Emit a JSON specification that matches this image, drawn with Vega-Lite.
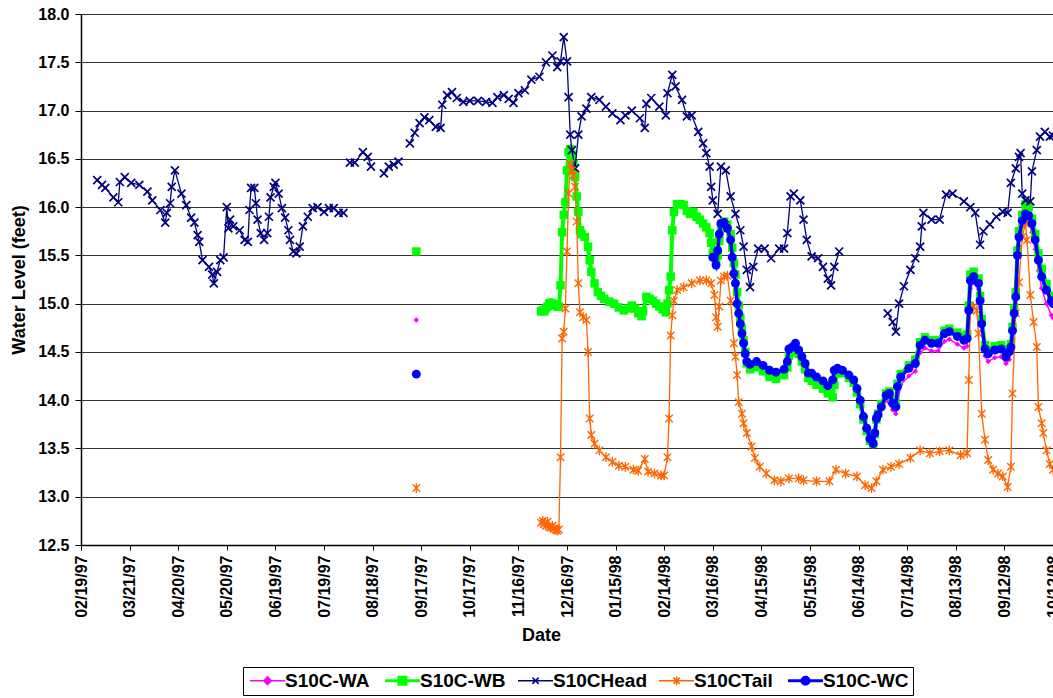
{
"$schema": "https://vega.github.io/schema/vega-lite/v6.json",
"width": 972, "height": 531,
"autosize": "none",
"padding": {"left": 81, "top": 14, "right": 0, "bottom": 153},
"background": "white",
"config": {"view": {"stroke": null}, "font": "Liberation Sans"},
"datasets": {
"wa": [
{"d":"1997-09-14","v":14.83},{"d":"1997-10-15","v":null},
{"d":"1997-11-30","v":14.94},{"d":"1997-12-03","v":14.97},{"d":"1997-12-06","v":15.03},{"d":"1997-12-09","v":15.0},{"d":"1997-12-11","v":14.98},{"d":"1997-12-12","v":15.2},{"d":"1997-12-13","v":15.75},{"d":"1997-12-14","v":15.93},{"d":"1997-12-15","v":16.07},{"d":"1997-12-16","v":16.4},{"d":"1997-12-17","v":16.59},{"d":"1997-12-18","v":16.62},{"d":"1997-12-19","v":16.55},{"d":"1997-12-21","v":16.33},{"d":"1997-12-22","v":16.13},{"d":"1997-12-23","v":15.97},{"d":"1997-12-24","v":15.78},{"d":"1997-12-27","v":15.71},{"d":"1997-12-29","v":15.61},{"d":"1997-12-31","v":15.35},
{"d":"1998-01-02","v":15.23},{"d":"1998-01-05","v":15.12},{"d":"1998-01-08","v":15.07},{"d":"1998-01-11","v":15.04},{"d":"1998-01-14","v":15.02},{"d":"1998-01-17","v":14.98},{"d":"1998-01-20","v":14.95},{"d":"1998-01-23","v":14.97},{"d":"1998-01-27","v":14.97},{"d":"1998-01-31","v":14.89},{"d":"1998-02-03","v":15.09},{"d":"1998-02-07","v":15.05},{"d":"1998-02-11","v":14.99},{"d":"1998-02-15","v":14.93},{"d":"1998-02-17","v":15.16},{"d":"1998-02-18","v":15.3},{"d":"1998-02-19","v":15.77},{"d":"1998-02-20","v":15.96},{"d":"1998-02-24","v":16.04},{"d":"1998-02-28","v":15.97},{"d":"1998-03-04","v":15.96},{"d":"1998-03-08","v":15.88},{"d":"1998-03-12","v":15.81},{"d":"1998-03-14","v":15.75},{"d":"1998-03-16","v":15.5},{"d":"1998-03-18","v":15.38},{"d":"1998-03-20","v":15.69},{"d":"1998-03-23","v":15.82},{"d":"1998-03-27","v":15.63},{"d":"1998-03-29","v":15.28},{"d":"1998-03-31","v":14.97},
{"d":"1998-04-02","v":14.76},{"d":"1998-04-04","v":14.56},{"d":"1998-04-06","v":14.37},{"d":"1998-04-12","v":14.37},{"d":"1998-04-20","v":14.28},{"d":"1998-04-29","v":14.29},{"d":"1998-05-02","v":14.5},{"d":"1998-05-06","v":14.56},{"d":"1998-05-10","v":14.42},{"d":"1998-05-14","v":14.25},{"d":"1998-05-19","v":14.21},{"d":"1998-05-26","v":14.12},{"d":"1998-05-30","v":14.28},{"d":"1998-06-04","v":14.28},{"d":"1998-06-11","v":14.18},{"d":"1998-06-15","v":13.97},{"d":"1998-06-19","v":13.68},{"d":"1998-06-23","v":13.52},{"d":"1998-06-26","v":13.8},{"d":"1998-07-01","v":14.0},{"d":"1998-07-05","v":13.9},{"d":"1998-07-07","v":13.86},{"d":"1998-07-10","v":14.16},{"d":"1998-07-15","v":14.25},{"d":"1998-07-19","v":14.3},{"d":"1998-07-22","v":14.49},{"d":"1998-07-25","v":14.54},{"d":"1998-07-29","v":14.51},{"d":"1998-08-02","v":14.51},{"d":"1998-08-06","v":14.61},{"d":"1998-08-09","v":14.63},{"d":"1998-08-14","v":14.58},{"d":"1998-08-18","v":14.54},{"d":"1998-08-20","v":14.56},{"d":"1998-08-21","v":14.85},{"d":"1998-08-22","v":15.16},{"d":"1998-08-24","v":15.22},{"d":"1998-08-27","v":15.15},{"d":"1998-08-28","v":14.97},{"d":"1998-08-29","v":14.72},{"d":"1998-08-31","v":14.46},{"d":"1998-09-02","v":14.4},{"d":"1998-09-06","v":14.44},{"d":"1998-09-10","v":14.45},{"d":"1998-09-13","v":14.38},{"d":"1998-09-15","v":14.42},{"d":"1998-09-17","v":14.64},{"d":"1998-09-19","v":14.99},{"d":"1998-09-21","v":15.6},{"d":"1998-09-23","v":15.8},{"d":"1998-09-25","v":15.87},{"d":"1998-09-27","v":15.84},{"d":"1998-09-29","v":15.74},{"d":"1998-10-01","v":15.56},{"d":"1998-10-03","v":15.34},{"d":"1998-10-05","v":15.16},{"d":"1998-10-08","v":15.0},{"d":"1998-10-11","v":14.88},{"d":"1998-10-12","v":14.85}
],
"wb": [
{"d":"1997-09-14","v":15.54},{"d":"1997-10-15","v":null},
{"d":"1997-11-30","v":14.92},{"d":"1997-12-01","v":14.93},{"d":"1997-12-02","v":14.92},{"d":"1997-12-03","v":14.95},{"d":"1997-12-04","v":14.97},{"d":"1997-12-05","v":15.0},{"d":"1997-12-06","v":15.01},{"d":"1997-12-07","v":15.0},{"d":"1997-12-08","v":14.99},{"d":"1997-12-09","v":14.98},{"d":"1997-12-10","v":14.97},{"d":"1997-12-11","v":14.97},{"d":"1997-12-12","v":15.19},{"d":"1997-12-13","v":15.74},{"d":"1997-12-14","v":15.92},{"d":"1997-12-15","v":16.05},{"d":"1997-12-16","v":16.38},{"d":"1997-12-17","v":16.57},{"d":"1997-12-18","v":16.6},{"d":"1997-12-19","v":16.54},{"d":"1997-12-20","v":16.45},{"d":"1997-12-21","v":16.31},{"d":"1997-12-22","v":16.11},{"d":"1997-12-23","v":15.95},{"d":"1997-12-24","v":15.76},{"d":"1997-12-25","v":15.72},{"d":"1997-12-27","v":15.69},{"d":"1997-12-29","v":15.59},{"d":"1997-12-30","v":15.45},{"d":"1997-12-31","v":15.33},
{"d":"1998-01-02","v":15.21},{"d":"1998-01-04","v":15.12},{"d":"1998-01-06","v":15.08},{"d":"1998-01-08","v":15.05},{"d":"1998-01-11","v":15.02},{"d":"1998-01-14","v":15.0},{"d":"1998-01-17","v":14.96},{"d":"1998-01-20","v":14.93},{"d":"1998-01-23","v":14.95},{"d":"1998-01-25","v":14.98},{"d":"1998-01-27","v":14.95},{"d":"1998-01-29","v":14.9},{"d":"1998-01-31","v":14.87},{"d":"1998-02-01","v":14.92},{"d":"1998-02-03","v":15.07},{"d":"1998-02-05","v":15.05},{"d":"1998-02-07","v":15.03},{"d":"1998-02-09","v":15.0},{"d":"1998-02-11","v":14.97},{"d":"1998-02-13","v":14.94},{"d":"1998-02-15","v":14.91},{"d":"1998-02-16","v":15.0},{"d":"1998-02-17","v":15.14},{"d":"1998-02-18","v":15.28},{"d":"1998-02-19","v":15.76},{"d":"1998-02-20","v":15.95},{"d":"1998-02-22","v":16.03},{"d":"1998-02-24","v":16.03},{"d":"1998-02-26","v":16.02},{"d":"1998-02-28","v":15.96},{"d":"1998-03-02","v":15.93},{"d":"1998-03-04","v":15.95},{"d":"1998-03-06","v":15.9},{"d":"1998-03-08","v":15.87},{"d":"1998-03-10","v":15.83},{"d":"1998-03-12","v":15.79},{"d":"1998-03-14","v":15.73},{"d":"1998-03-15","v":15.63},{"d":"1998-03-16","v":15.52},
{"d":"1998-03-18","v":15.45},{"d":"1998-03-19","v":15.5},{"d":"1998-03-20","v":15.65},{"d":"1998-03-21","v":15.78},{"d":"1998-03-23","v":15.85},{"d":"1998-03-25","v":15.82},{"d":"1998-03-27","v":15.72},{"d":"1998-03-28","v":15.58},{"d":"1998-03-29","v":15.42},{"d":"1998-03-30","v":15.3},{"d":"1998-03-31","v":15.12},{"d":"1998-04-01","v":14.98},{"d":"1998-04-02","v":14.85},{"d":"1998-04-03","v":14.74},{"d":"1998-04-04","v":14.62},{"d":"1998-04-05","v":14.5},{"d":"1998-04-06","v":14.38},{"d":"1998-04-08","v":14.32},{"d":"1998-04-12","v":14.34},{"d":"1998-04-16","v":14.3},{"d":"1998-04-20","v":14.24},{"d":"1998-04-24","v":14.22},{"d":"1998-04-29","v":14.26},{"d":"1998-05-01","v":14.34},{"d":"1998-05-02","v":14.46},{"d":"1998-05-04","v":14.5},{"d":"1998-05-06","v":14.54},{"d":"1998-05-08","v":14.48},{"d":"1998-05-10","v":14.4},{"d":"1998-05-12","v":14.32},{"d":"1998-05-14","v":14.23},{"d":"1998-05-16","v":14.2},{"d":"1998-05-19","v":14.16},{"d":"1998-05-23","v":14.12},{"d":"1998-05-26","v":14.07},{"d":"1998-05-29","v":14.03},{"d":"1998-05-30","v":14.16},{"d":"1998-06-01","v":14.28},{"d":"1998-06-04","v":14.28},{"d":"1998-06-08","v":14.23},{"d":"1998-06-11","v":14.18},{"d":"1998-06-13","v":14.08},{"d":"1998-06-15","v":13.96},{"d":"1998-06-17","v":13.8},{"d":"1998-06-19","v":13.68},{"d":"1998-06-21","v":13.58},{"d":"1998-06-23","v":13.55},{"d":"1998-06-24","v":13.65},{"d":"1998-06-25","v":13.8},{"d":"1998-06-26","v":13.86},{"d":"1998-06-28","v":13.96},{"d":"1998-07-01","v":14.07},{"d":"1998-07-03","v":14.09},{"d":"1998-07-05","v":14.01},{"d":"1998-07-07","v":13.97},{"d":"1998-07-08","v":14.17},{"d":"1998-07-10","v":14.27},{"d":"1998-07-15","v":14.36},{"d":"1998-07-19","v":14.42},{"d":"1998-07-22","v":14.6},{"d":"1998-07-25","v":14.65},{"d":"1998-07-29","v":14.62},{"d":"1998-08-02","v":14.62},{"d":"1998-08-06","v":14.72},{"d":"1998-08-09","v":14.74},{"d":"1998-08-14","v":14.7},{"d":"1998-08-18","v":14.66},{"d":"1998-08-20","v":14.68},{"d":"1998-08-21","v":14.98},{"d":"1998-08-22","v":15.3},{"d":"1998-08-24","v":15.33},{"d":"1998-08-27","v":15.26},{"d":"1998-08-28","v":15.08},{"d":"1998-08-29","v":14.84},{"d":"1998-08-31","v":14.57},{"d":"1998-09-02","v":14.52},{"d":"1998-09-06","v":14.56},{"d":"1998-09-10","v":14.57},{"d":"1998-09-13","v":14.5},{"d":"1998-09-15","v":14.53},{"d":"1998-09-16","v":14.58},{"d":"1998-09-17","v":14.76},{"d":"1998-09-18","v":14.95},{"d":"1998-09-19","v":15.12},{"d":"1998-09-20","v":15.55},{"d":"1998-09-21","v":15.75},{"d":"1998-09-23","v":15.92},{"d":"1998-09-25","v":16.03},{"d":"1998-09-27","v":16.0},{"d":"1998-09-29","v":15.88},{"d":"1998-10-01","v":15.72},{"d":"1998-10-03","v":15.52},{"d":"1998-10-05","v":15.36},{"d":"1998-10-08","v":15.2},{"d":"1998-10-11","v":15.08},{"d":"1998-10-12","v":15.05}
],
"head": [
{"d":"1997-03-01","v":16.28},{"d":"1997-03-04","v":16.23},{"d":"1997-03-06","v":16.2},{"d":"1997-03-11","v":16.1},{"d":"1997-03-14","v":16.05},{"d":"1997-03-15","v":16.26},{"d":"1997-03-18","v":16.31},{"d":"1997-03-22","v":16.25},{"d":"1997-03-27","v":16.23},{"d":"1997-04-01","v":16.16},{"d":"1997-04-04","v":16.07},{"d":"1997-04-09","v":15.97},{"d":"1997-04-12","v":15.84},{"d":"1997-04-13","v":15.94},{"d":"1997-04-15","v":16.04},{"d":"1997-04-16","v":16.21},{"d":"1997-04-18","v":16.38},{"d":"1997-04-22","v":16.14},{"d":"1997-04-25","v":16.02},{"d":"1997-04-28","v":15.89},{"d":"1997-04-30","v":15.84},{"d":"1997-05-02","v":15.71},{"d":"1997-05-03","v":15.64},{"d":"1997-05-05","v":15.45},{"d":"1997-05-09","v":15.38},{"d":"1997-05-11","v":15.3},{"d":"1997-05-12","v":15.21},{"d":"1997-05-14","v":15.33},{"d":"1997-05-16","v":15.45},{"d":"1997-05-18","v":15.48},{"d":"1997-05-20","v":16.0},{"d":"1997-05-21","v":15.78},{"d":"1997-05-22","v":15.87},{"d":"1997-05-24","v":15.8},{"d":"1997-05-28","v":15.76},{"d":"1997-05-31","v":15.66},{"d":"1997-06-02","v":15.64},{"d":"1997-06-03","v":15.97},{"d":"1997-06-04","v":16.2},{"d":"1997-06-06","v":16.2},{"d":"1997-06-07","v":16.04},{"d":"1997-06-08","v":15.87},{"d":"1997-06-10","v":15.73},{"d":"1997-06-12","v":15.66},{"d":"1997-06-14","v":15.73},{"d":"1997-06-15","v":15.9},{"d":"1997-06-16","v":16.1},{"d":"1997-06-18","v":16.21},{"d":"1997-06-19","v":16.25},{"d":"1997-06-21","v":16.14},{"d":"1997-06-23","v":15.99},{"d":"1997-06-25","v":15.89},{"d":"1997-06-27","v":15.76},{"d":"1997-06-28","v":15.66},{"d":"1997-06-30","v":15.54},{"d":"1997-07-02","v":15.52},{"d":"1997-07-04","v":15.59},{"d":"1997-07-06","v":15.8},{"d":"1997-07-09","v":15.9},{"d":"1997-07-12","v":15.99},{"d":"1997-07-15","v":16.0},{"d":"1997-07-19","v":15.95},{"d":"1997-07-22","v":15.99},{"d":"1997-07-25","v":15.99},{"d":"1997-07-28","v":15.94},{"d":"1997-07-31","v":15.94},
{"d":"1997-08-02","v":null},
{"d":"1997-08-04","v":16.46},{"d":"1997-08-07","v":16.46},{"d":"1997-08-12","v":16.57},{"d":"1997-08-15","v":16.52},{"d":"1997-08-17","v":16.42},
{"d":"1997-08-21","v":null},
{"d":"1997-08-25","v":16.35},{"d":"1997-08-28","v":16.42},{"d":"1997-08-31","v":16.44},{"d":"1997-09-03","v":16.47},
{"d":"1997-09-06","v":null},
{"d":"1997-09-10","v":16.66},{"d":"1997-09-13","v":16.77},{"d":"1997-09-16","v":16.87},{"d":"1997-09-19","v":16.93},{"d":"1997-09-22","v":16.9},{"d":"1997-09-26","v":16.83},{"d":"1997-09-29","v":16.82},{"d":"1997-09-30","v":17.06},{"d":"1997-10-03","v":17.16},{"d":"1997-10-06","v":17.19},{"d":"1997-10-09","v":17.13},{"d":"1997-10-13","v":17.09},{"d":"1997-10-17","v":17.1},{"d":"1997-10-22","v":17.1},{"d":"1997-10-27","v":17.09},{"d":"1997-10-31","v":17.08},{"d":"1997-11-03","v":17.14},{"d":"1997-11-07","v":17.16},{"d":"1997-11-10","v":17.12},{"d":"1997-11-13","v":17.08},{"d":"1997-11-16","v":17.18},{"d":"1997-11-20","v":17.21},{"d":"1997-11-24","v":17.32},{"d":"1997-11-29","v":17.35},{"d":"1997-12-03","v":17.5},{"d":"1997-12-07","v":17.57},{"d":"1997-12-10","v":17.45},{"d":"1997-12-12","v":17.51},{"d":"1997-12-14","v":17.76},{"d":"1997-12-16","v":17.51},{"d":"1997-12-17","v":17.14},{"d":"1997-12-18","v":16.75},{"d":"1997-12-19","v":16.59},{"d":"1997-12-21","v":16.4},{"d":"1997-12-23","v":16.75},{"d":"1997-12-25","v":16.94},{"d":"1997-12-28","v":17.02},{"d":"1997-12-31","v":17.14},
{"d":"1998-01-05","v":17.11},{"d":"1998-01-09","v":17.04},{"d":"1998-01-13","v":16.97},{"d":"1998-01-18","v":16.9},{"d":"1998-01-21","v":16.95},{"d":"1998-01-25","v":17.0},{"d":"1998-01-30","v":16.92},{"d":"1998-02-02","v":16.82},{"d":"1998-02-03","v":17.07},{"d":"1998-02-06","v":17.13},{"d":"1998-02-11","v":17.04},{"d":"1998-02-15","v":16.95},{"d":"1998-02-16","v":17.18},{"d":"1998-02-19","v":17.37},{"d":"1998-02-21","v":17.25},{"d":"1998-02-25","v":17.11},{"d":"1998-02-28","v":16.94},{"d":"1998-03-03","v":16.95},{"d":"1998-03-07","v":16.78},{"d":"1998-03-10","v":16.66},{"d":"1998-03-12","v":16.56},{"d":"1998-03-14","v":16.42},{"d":"1998-03-15","v":16.21},{"d":"1998-03-16","v":16.07},{"d":"1998-03-19","v":15.93},{"d":"1998-03-21","v":16.42},{"d":"1998-03-24","v":16.38},{"d":"1998-03-27","v":16.11},{"d":"1998-03-30","v":15.93},{"d":"1998-04-02","v":15.76},{"d":"1998-04-04","v":15.59},{"d":"1998-04-06","v":15.35},{"d":"1998-04-08","v":15.17},{"d":"1998-04-10","v":15.38},{"d":"1998-04-13","v":15.57},{"d":"1998-04-17","v":15.57},{"d":"1998-04-21","v":15.47},{"d":"1998-04-26","v":15.57},{"d":"1998-04-29","v":15.57},{"d":"1998-05-01","v":15.73},{"d":"1998-05-03","v":16.11},{"d":"1998-05-05","v":16.14},{"d":"1998-05-09","v":16.07},{"d":"1998-05-11","v":15.87},{"d":"1998-05-13","v":15.66},{"d":"1998-05-16","v":15.49},{"d":"1998-05-20","v":15.47},{"d":"1998-05-23","v":15.38},{"d":"1998-05-26","v":15.26},{"d":"1998-05-28","v":15.19},{"d":"1998-05-30","v":15.38},{"d":"1998-06-02","v":15.54},
{"d":"1998-06-15","v":null},
{"d":"1998-07-02","v":14.9},{"d":"1998-07-05","v":14.81},{"d":"1998-07-07","v":14.71},{"d":"1998-07-09","v":15.0},{"d":"1998-07-12","v":15.18},{"d":"1998-07-16","v":15.35},{"d":"1998-07-19","v":15.47},{"d":"1998-07-22","v":15.59},{"d":"1998-07-23","v":15.8},{"d":"1998-07-24","v":15.94},{"d":"1998-07-29","v":15.87},{"d":"1998-08-03","v":15.87},{"d":"1998-08-07","v":16.13},{"d":"1998-08-11","v":16.14},{"d":"1998-08-18","v":16.06},{"d":"1998-08-22","v":16.0},{"d":"1998-08-25","v":15.94},{"d":"1998-08-28","v":15.61},{"d":"1998-08-30","v":15.75},{"d":"1998-09-03","v":15.82},{"d":"1998-09-07","v":15.9},{"d":"1998-09-11","v":15.95},{"d":"1998-09-14","v":15.94},{"d":"1998-09-16","v":16.25},{"d":"1998-09-19","v":16.4},{"d":"1998-09-21","v":16.52},{"d":"1998-09-22","v":16.56},{"d":"1998-09-23","v":16.14},{"d":"1998-09-25","v":16.07},{"d":"1998-09-28","v":16.06},{"d":"1998-09-29","v":16.37},{"d":"1998-10-02","v":16.59},{"d":"1998-10-04","v":16.73},{"d":"1998-10-07","v":16.78},{"d":"1998-10-10","v":16.73},{"d":"1998-10-12","v":16.74}
],
"tail": [
{"d":"1997-09-14","v":13.09},{"d":"1997-10-15","v":null},
{"d":"1997-11-30","v":12.73},{"d":"1997-12-01","v":12.75},{"d":"1997-12-02","v":12.72},{"d":"1997-12-03","v":12.7},{"d":"1997-12-04","v":12.74},{"d":"1997-12-05","v":12.69},{"d":"1997-12-06","v":12.68},{"d":"1997-12-07","v":12.7},{"d":"1997-12-08","v":12.67},{"d":"1997-12-09","v":12.66},{"d":"1997-12-10","v":12.65},{"d":"1997-12-11","v":12.66},{"d":"1997-12-12","v":13.41},{"d":"1997-12-13","v":14.64},{"d":"1997-12-14","v":14.71},{"d":"1997-12-15","v":14.95},{"d":"1997-12-16","v":15.54},{"d":"1997-12-17","v":16.14},{"d":"1997-12-18","v":16.45},{"d":"1997-12-19","v":16.38},{"d":"1997-12-20","v":16.33},{"d":"1997-12-21","v":16.21},{"d":"1997-12-22","v":15.85},{"d":"1997-12-23","v":15.21},{"d":"1997-12-24","v":14.91},{"d":"1997-12-26","v":14.86},{"d":"1997-12-28","v":14.83},{"d":"1997-12-29","v":14.5},{"d":"1997-12-30","v":13.81},{"d":"1997-12-31","v":13.64},
{"d":"1998-01-02","v":13.55},{"d":"1998-01-05","v":13.48},{"d":"1998-01-09","v":13.41},{"d":"1998-01-13","v":13.36},{"d":"1998-01-17","v":13.32},{"d":"1998-01-21","v":13.31},{"d":"1998-01-26","v":13.28},{"d":"1998-01-29","v":13.27},{"d":"1998-02-02","v":13.39},{"d":"1998-02-04","v":13.26},{"d":"1998-02-08","v":13.24},{"d":"1998-02-12","v":13.22},{"d":"1998-02-14","v":13.22},{"d":"1998-02-16","v":13.41},{"d":"1998-02-17","v":13.81},{"d":"1998-02-18","v":14.67},{"d":"1998-02-19","v":14.88},{"d":"1998-02-20","v":15.03},{"d":"1998-02-22","v":15.14},{"d":"1998-02-26","v":15.17},{"d":"1998-03-03","v":15.21},{"d":"1998-03-08","v":15.24},{"d":"1998-03-12","v":15.24},{"d":"1998-03-15","v":15.21},{"d":"1998-03-17","v":15.09},{"d":"1998-03-18","v":14.86},{"d":"1998-03-19","v":14.76},{"d":"1998-03-20","v":14.97},{"d":"1998-03-21","v":15.24},{"d":"1998-03-23","v":15.28},{"d":"1998-03-25","v":15.29},{"d":"1998-03-27","v":15.03},{"d":"1998-03-29","v":14.59},{"d":"1998-03-30","v":14.45},{"d":"1998-03-31","v":14.26},{"d":"1998-04-01","v":13.98},{"d":"1998-04-03","v":13.86},{"d":"1998-04-04","v":13.76},{"d":"1998-04-06","v":13.66},{"d":"1998-04-09","v":13.52},{"d":"1998-04-11","v":13.4},{"d":"1998-04-14","v":13.31},{"d":"1998-04-18","v":13.24},{"d":"1998-04-23","v":13.17},{"d":"1998-04-27","v":13.16},{"d":"1998-05-02","v":13.19},{"d":"1998-05-08","v":13.19},{"d":"1998-05-11","v":13.17},{"d":"1998-05-19","v":13.16},{"d":"1998-05-27","v":13.16},{"d":"1998-05-31","v":13.28},{"d":"1998-06-06","v":13.24},{"d":"1998-06-13","v":13.21},{"d":"1998-06-18","v":13.12},{"d":"1998-06-22","v":13.09},{"d":"1998-06-25","v":13.16},{"d":"1998-06-29","v":13.28},{"d":"1998-07-04","v":13.31},{"d":"1998-07-09","v":13.34},{"d":"1998-07-16","v":13.4},{"d":"1998-07-22","v":13.48},{"d":"1998-07-28","v":13.45},{"d":"1998-08-03","v":13.47},{"d":"1998-08-09","v":13.48},{"d":"1998-08-16","v":13.43},{"d":"1998-08-20","v":13.45},{"d":"1998-08-21","v":14.21},{"d":"1998-08-22","v":14.93},{"d":"1998-08-24","v":14.97},{"d":"1998-08-26","v":14.93},{"d":"1998-08-27","v":14.69},{"d":"1998-08-29","v":13.86},{"d":"1998-08-31","v":13.59},{"d":"1998-09-02","v":13.38},{"d":"1998-09-05","v":13.28},{"d":"1998-09-08","v":13.24},{"d":"1998-09-11","v":13.21},{"d":"1998-09-14","v":13.1},{"d":"1998-09-16","v":13.31},{"d":"1998-09-17","v":14.07},{"d":"1998-09-19","v":14.9},{"d":"1998-09-21","v":15.22},{"d":"1998-09-23","v":15.69},{"d":"1998-09-25","v":15.83},{"d":"1998-09-26","v":15.66},{"d":"1998-09-28","v":15.09},{"d":"1998-09-30","v":14.81},{"d":"1998-10-02","v":14.55},{"d":"1998-10-03","v":13.93},{"d":"1998-10-05","v":13.76},{"d":"1998-10-06","v":13.66},{"d":"1998-10-08","v":13.48},{"d":"1998-10-10","v":13.34},{"d":"1998-10-12","v":13.28}
],
"wc": [
{"d":"1997-09-14","v":14.27},{"d":"1998-01-01","v":null},
{"d":"1998-03-16","v":15.48},{"d":"1998-03-18","v":15.4},{"d":"1998-03-19","v":15.55},{"d":"1998-03-20","v":15.72},{"d":"1998-03-21","v":15.83},{"d":"1998-03-23","v":15.84},{"d":"1998-03-25","v":15.78},{"d":"1998-03-27","v":15.66},{"d":"1998-03-28","v":15.48},{"d":"1998-03-29","v":15.31},{"d":"1998-03-30","v":15.21},{"d":"1998-03-31","v":15.0},{"d":"1998-04-01","v":14.9},{"d":"1998-04-02","v":14.79},{"d":"1998-04-03","v":14.69},{"d":"1998-04-04","v":14.59},{"d":"1998-04-05","v":14.48},{"d":"1998-04-06","v":14.4},{"d":"1998-04-08","v":14.37},{"d":"1998-04-12","v":14.4},{"d":"1998-04-16","v":14.36},{"d":"1998-04-20","v":14.31},{"d":"1998-04-24","v":14.29},{"d":"1998-04-29","v":14.32},{"d":"1998-05-01","v":14.4},{"d":"1998-05-02","v":14.53},{"d":"1998-05-04","v":14.55},{"d":"1998-05-06","v":14.59},{"d":"1998-05-08","v":14.52},{"d":"1998-05-10","v":14.45},{"d":"1998-05-12","v":14.38},{"d":"1998-05-14","v":14.28},{"d":"1998-05-16","v":14.28},{"d":"1998-05-19","v":14.24},{"d":"1998-05-23","v":14.2},{"d":"1998-05-26","v":14.15},{"d":"1998-05-29","v":14.21},{"d":"1998-05-30","v":14.31},{"d":"1998-06-01","v":14.33},{"d":"1998-06-04","v":14.31},{"d":"1998-06-08","v":14.26},{"d":"1998-06-11","v":14.21},{"d":"1998-06-13","v":14.12},{"d":"1998-06-15","v":14.0},{"d":"1998-06-17","v":13.83},{"d":"1998-06-19","v":13.71},{"d":"1998-06-21","v":13.6},{"d":"1998-06-23","v":13.55},{"d":"1998-06-24","v":13.66},{"d":"1998-06-25","v":13.81},{"d":"1998-06-26","v":13.85},{"d":"1998-06-28","v":13.93},{"d":"1998-07-01","v":14.05},{"d":"1998-07-03","v":14.07},{"d":"1998-07-05","v":13.97},{"d":"1998-07-07","v":13.93},{"d":"1998-07-08","v":14.14},{"d":"1998-07-10","v":14.24},{"d":"1998-07-15","v":14.33},{"d":"1998-07-19","v":14.38},{"d":"1998-07-22","v":14.57},{"d":"1998-07-25","v":14.62},{"d":"1998-07-29","v":14.59},{"d":"1998-08-02","v":14.59},{"d":"1998-08-06","v":14.69},{"d":"1998-08-09","v":14.71},{"d":"1998-08-14","v":14.66},{"d":"1998-08-18","v":14.62},{"d":"1998-08-20","v":14.64},{"d":"1998-08-21","v":14.93},{"d":"1998-08-22","v":15.24},{"d":"1998-08-24","v":15.28},{"d":"1998-08-27","v":15.21},{"d":"1998-08-28","v":15.03},{"d":"1998-08-29","v":14.79},{"d":"1998-08-31","v":14.53},{"d":"1998-09-02","v":14.48},{"d":"1998-09-06","v":14.52},{"d":"1998-09-10","v":14.53},{"d":"1998-09-13","v":14.45},{"d":"1998-09-15","v":14.5},{"d":"1998-09-16","v":14.55},{"d":"1998-09-17","v":14.72},{"d":"1998-09-18","v":14.9},{"d":"1998-09-19","v":15.07},{"d":"1998-09-20","v":15.5},{"d":"1998-09-21","v":15.69},{"d":"1998-09-23","v":15.86},{"d":"1998-09-25","v":15.93},{"d":"1998-09-27","v":15.91},{"d":"1998-09-29","v":15.83},{"d":"1998-10-01","v":15.66},{"d":"1998-10-03","v":15.45},{"d":"1998-10-05","v":15.28},{"d":"1998-10-08","v":15.14},{"d":"1998-10-11","v":15.03},{"d":"1998-10-12","v":15.0}
]
},
"encoding": {
"x": {"field": "d", "type": "temporal",
 "scale": {"type": "utc", "domain": [{"year":1997,"month":2,"date":19,"utc":true},{"year":1998,"month":10,"date":12,"utc":true}]},
 "axis": {"title": "Date", "format": "%m/%d/%y", "labelAngle": 270, "labelAlign": "right", "labelBaseline": "middle",
  "values": [{"year":1997,"month":2,"date":19,"utc":true},{"year":1997,"month":3,"date":21,"utc":true},{"year":1997,"month":4,"date":20,"utc":true},{"year":1997,"month":5,"date":20,"utc":true},{"year":1997,"month":6,"date":19,"utc":true},{"year":1997,"month":7,"date":19,"utc":true},{"year":1997,"month":8,"date":18,"utc":true},{"year":1997,"month":9,"date":17,"utc":true},{"year":1997,"month":10,"date":17,"utc":true},{"year":1997,"month":11,"date":16,"utc":true},{"year":1997,"month":12,"date":16,"utc":true},{"year":1998,"month":1,"date":15,"utc":true},{"year":1998,"month":2,"date":14,"utc":true},{"year":1998,"month":3,"date":16,"utc":true},{"year":1998,"month":4,"date":15,"utc":true},{"year":1998,"month":5,"date":15,"utc":true},{"year":1998,"month":6,"date":14,"utc":true},{"year":1998,"month":7,"date":14,"utc":true},{"year":1998,"month":8,"date":13,"utc":true},{"year":1998,"month":9,"date":12,"utc":true},{"year":1998,"month":10,"date":12,"utc":true}],
  "grid": false, "labelFont": "Liberation Sans", "labelFontWeight": "bold", "labelFontSize": 16, "labelColor": "#000",
  "labelPadding": 5, "labelOverlap": false, "labelFlush": false, "labelBound": false,
  "tickColor": "#000", "tickSize": 5, "domainColor": "#000", "domainWidth": 1.5,
  "titleFont": "Liberation Sans", "titleFontWeight": "bold", "titleFontSize": 18, "titleColor": "#000",
  "titleX": 460, "titleY": 90, "titleAlign": "center", "titleBaseline": "middle"}},
"y": {"field": "v", "type": "quantitative",
 "scale": {"domain": [12.5, 18], "nice": false, "zero": false},
 "axis": {"title": "Water Level (feet)", "values": [12.5,13,13.5,14,14.5,15,15.5,16,16.5,17,17.5,18], "format": ".1f",
  "grid": true, "gridColor": "#000", "gridWidth": 1, "gridOpacity": 0.8,
  "labelFont": "Liberation Sans", "labelFontWeight": "bold", "labelFontSize": 16, "labelColor": "#000", "labelPadding": 6,
  "tickColor": "#000", "tickSize": 6, "domainColor": "#000", "domainWidth": 1.5,
  "titleFont": "Liberation Sans", "titleFontWeight": "bold", "titleFontSize": 18, "titleColor": "#000",
  "titleX": -62, "titleY": 265.5, "titleAngle": 270, "titleAlign": "center", "titleBaseline": "middle"}}
},
"layer": [
{"data": {"name": "wa"}, "mark": {"type": "line", "strokeWidth": 1.5, "invalid": "break-paths-filter-domains"},
 "encoding": {"color": {"datum": "S10C-WA", "type": "nominal",
  "scale": {"domain": ["S10C-WA","S10C-WB","S10CHead","S10CTail","S10C-WC"], "range": ["#FF00FF","#00FF00","#000080","#FF6600","#0000FF"]},
  "legend": {"orient": "none", "legendX": 162, "legendY": 653, "direction": "horizontal", "title": null,
   "strokeColor": "#000", "padding": 4, "columnPadding": 9, "rowPadding": 0,
   "labelFont": "Liberation Sans", "labelFontWeight": "bold", "labelFontSize": 19, "labelColor": "#000", "labelOffset": 19, "labelLimit": 300,
   "symbolSize": 1225, "symbolStrokeWidth": 1.5,
   "encode": {"symbols": {"update": {
    "size": {"value": 1225},
    "shape": {"signal": "datum.value === 'S10C-WA' ? 'M-0.37,0H1.63M0.63,-0.22L0.85,0L0.63,0.22L0.41,0Z' : datum.value === 'S10C-WB' ? 'M-0.37,0H1.63M0.43,-0.2H0.83V0.2H0.43Z' : datum.value === 'S10CHead' ? 'M-0.37,0H1.63M0.45,-0.18L0.81,0.18M0.45,0.18L0.81,-0.18' : datum.value === 'S10CTail' ? 'M-0.37,0H1.63M0.45,-0.18L0.81,0.18M0.45,0.18L0.81,-0.18M0.63,-0.25V0.25' : 'M-0.37,0H1.63M0.83,0A0.2,0.2,0,1,1,0.43,0A0.2,0.2,0,1,1,0.83,0Z'"},
    "fill": {"signal": "datum.value === 'S10CHead' || datum.value === 'S10CTail' ? 'transparent' : scale('color', datum.value)"},
    "stroke": {"signal": "scale('color', datum.value)"},
    "strokeWidth": {"signal": "datum.value === 'S10C-WB' || datum.value === 'S10C-WC' ? 3 : 1.5"},
    "opacity": {"value": 1}, "fillOpacity": {"value": 1}, "strokeOpacity": {"value": 1}
   }}}}}}},
{"data": {"name": "wa"}, "mark": {"type": "point", "shape": "diamond", "filled": true, "size": 30, "opacity": 1},
 "encoding": {"color": {"datum": "S10C-WA", "type": "nominal"}}},
{"data": {"name": "wb"}, "mark": {"type": "line", "strokeWidth": 4, "invalid": "break-paths-filter-domains"},
 "encoding": {"color": {"datum": "S10C-WB", "type": "nominal"}}},
{"data": {"name": "wb"}, "mark": {"type": "point", "shape": "square", "filled": true, "size": 72, "opacity": 1},
 "encoding": {"color": {"datum": "S10C-WB", "type": "nominal"}}},
{"data": {"name": "head"}, "mark": {"type": "line", "strokeWidth": 1.3, "invalid": "break-paths-filter-domains"},
 "encoding": {"color": {"datum": "S10CHead", "type": "nominal"}}},
{"data": {"name": "head"}, "mark": {"type": "point", "shape": "M-1,-1L1,1M-1,1L1,-1", "filled": false, "size": 64, "strokeWidth": 1.7, "opacity": 1},
 "encoding": {"color": {"datum": "S10CHead", "type": "nominal"}}},
{"data": {"name": "tail"}, "mark": {"type": "line", "strokeWidth": 1.3, "invalid": "break-paths-filter-domains"},
 "encoding": {"color": {"datum": "S10CTail", "type": "nominal"}}},
{"data": {"name": "tail"}, "mark": {"type": "point", "shape": "M-1,-1L1,1M-1,1L1,-1M0,-1.3V1.3", "filled": false, "size": 56, "strokeWidth": 1.4, "opacity": 1},
 "encoding": {"color": {"datum": "S10CTail", "type": "nominal"}}},
{"data": {"name": "wc"}, "mark": {"type": "line", "strokeWidth": 3.5, "invalid": "break-paths-filter-domains"},
 "encoding": {"color": {"datum": "S10C-WC", "type": "nominal"}}},
{"data": {"name": "wc"}, "mark": {"type": "point", "shape": "circle", "filled": true, "size": 80, "opacity": 1},
 "encoding": {"color": {"datum": "S10C-WC", "type": "nominal"}}}
]
}
